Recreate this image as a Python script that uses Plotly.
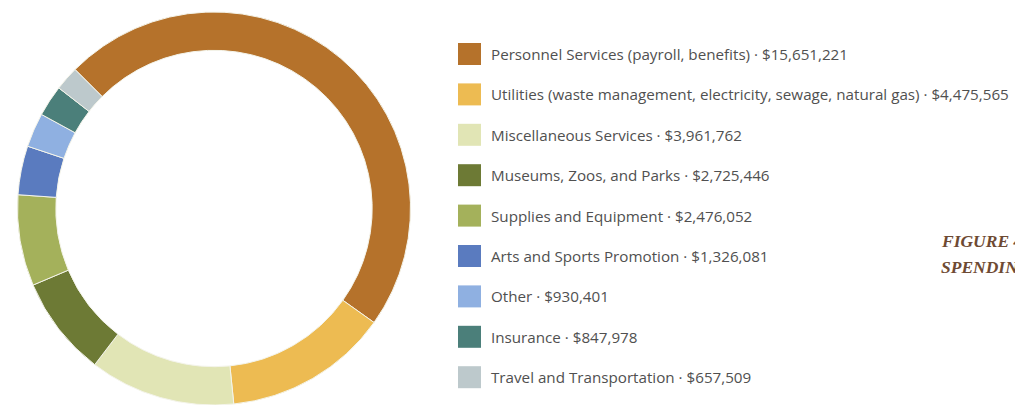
import plotly.graph_objects as go

# spending categories, in order around the ring
categories = [
    "Personnel Services (payroll, benefits)",
    "Utilities (waste management, electricity, sewage, natural gas)",
    "Miscellaneous Services",
    "Museums, Zoos, and Parks",
    "Supplies and Equipment",
    "Arts and Sports Promotion",
    "Other",
    "Insurance",
    "Travel and Transportation",
]
amounts = [15651221, 4475565, 3961762, 2725446, 2476052, 1326081, 930401, 847978, 657509]
colors = ["#b5722b", "#edbb52", "#e1e5b5", "#6d7a35", "#a4b15b",
          "#5a7bbf", "#8fb0e1", "#4b7f7a", "#bdc9cc"]

# page body has an 8px margin, so the figure is a bit smaller and
# everything is placed 8px up/left of where it sits in the page
OFF = 8
W = 1023 - OFF
H = 405 - OFF

fig = go.Figure()
fig.add_trace(go.Pie(
    labels=categories,
    values=amounts,
    hole=0.805,
    sort=False,
    direction="clockwise",
    rotation=-45,
    marker=dict(colors=colors, line=dict(color="#f4f4ea", width=1)),
    textinfo="none",
    showlegend=False,
    domain=dict(x=[(17 - OFF) / W, (411 - OFF) / W], y=[0.0, 0.99]),
))

# hand-made legend: square swatch + label per category
row0 = 54
step = 40.4
for i, (lab, amt, col) in enumerate(zip(categories, amounts, colors)):
    yc = row0 + i * step - OFF
    fig.add_shape(type="rect", xref="paper", yref="paper",
                  x0=(458 - OFF) / W, x1=(481 - OFF) / W,
                  y0=1 - (yc - 11) / H, y1=1 - (yc + 11) / H,
                  fillcolor=col, line=dict(width=0))
    fig.add_annotation(xref="paper", yref="paper", x=(489 - OFF) / W, y=1 - yc / H,
                       xanchor="left", yanchor="middle", showarrow=False,
                       text=f"{lab} · ${amt:,}",
                       font=dict(family="Open Sans", size=15.2, color="#505050"))

# figure caption, cut off at the right edge in the source
for txt, yc in [("FIGURE 4", 241), ("SPENDING", 267)]:
    fig.add_annotation(xref="paper", yref="paper", x=(939 - OFF) / W, y=1 - (yc - OFF) / H,
                       xanchor="left", yanchor="middle", showarrow=False,
                       text=f"<b><i>{txt}</i></b>",
                       font=dict(family="Liberation Serif", size=17.5, color="#6e4a33"))

fig.update_layout(
    width=W, height=H,
    margin=dict(l=0, r=0, t=0, b=0),
    paper_bgcolor="white",
    plot_bgcolor="white",
)
fig.write_html("out.html")
